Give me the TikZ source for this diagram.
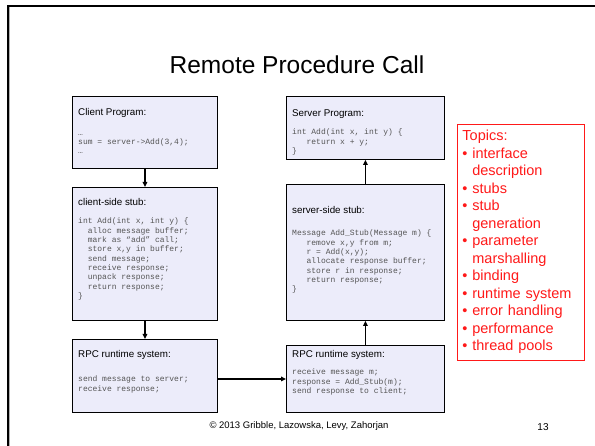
\documentclass[tikz,border=0pt]{standalone}
\usepackage{fontspec}
\setmainfont{Liberation Sans}
\newfontfamily\codefont{Liberation Mono}
\usetikzlibrary{arrows.meta,calc}
\definecolor{boxfill}{RGB}{236,236,250}
\definecolor{codegray}{RGB}{85,85,85}
\definecolor{topicred}{RGB}{255,25,25}
\begin{document}
\begin{tikzpicture}[x=1pt,y=-1pt,
  box/.style={draw=black, line width=0.9pt, fill=boxfill, anchor=north west, inner sep=0pt},
  hdr/.style={anchor=base west, inner sep=0pt, font=\fontsize{9.8}{12}\selectfont},
  code/.style={anchor=north west, inner sep=0pt, align=left, text=codegray,
    font=\codefont\fontsize{8}{9.3}\selectfont\frenchspacing, execute at begin node=\strut},
  conn/.style={line width=1.3pt, -{Triangle[length=5pt,width=4.5pt]}}]
\useasboundingbox (0,0) rectangle (595,446);
% slide frame
\draw[line width=2pt] (8,446) -- (8,6) -- (595,6);
\draw[gray!60, line width=0.6pt] (9.6,446) -- (9.6,7);
% title
\node[font=\fontsize{24.5}{28}\selectfont] (title) at (297,65) {Remote Procedure Call};
% left column
\node[box, minimum width=145pt, minimum height=72pt] (cp) at (72,96) {};
\node[hdr] (cph) at (78,116) {Client Program:};
\node[code] (cpc) at (78,134) {…\\sum = server->Add(3,4);\\…};
\node[box, minimum width=145pt, minimum height=133pt] (cs) at (72,187) {};
\node[hdr] (csh) at (78,205.5) {client-side stub:};
\node[code] (csc) at (78,218) {int Add(int x, int y) \{\\
\hspace*{1.2em}alloc message buffer;\\
\hspace*{1.2em}mark as “add” call;\\
\hspace*{1.2em}store x,y in buffer;\\
\hspace*{1.2em}send message;\\
\hspace*{1.2em}receive response;\\
\hspace*{1.2em}unpack response;\\
\hspace*{1.2em}return response;\\
\}};
\node[box, minimum width=145pt, minimum height=73pt] (lr) at (72,339) {};
\node[hdr] (lrh) at (78,357.5) {RPC runtime system:};
\node[code] (lrc) at (78,376) {send message to server;\\receive response;};
% right column
\node[box, minimum width=158pt, minimum height=63pt] (sp) at (286,96) {};
\node[hdr] (sph) at (292,116.5) {Server Program:};
\node[code] (spc) at (292,129) {int Add(int x, int y) \{\\
\hspace*{1.8em}return x + y;\\
\}};
\node[box, minimum width=158pt, minimum height=136pt] (ss) at (286,184) {};
\node[hdr] (ssh) at (292,213.5) {server-side stub:};
\node[code] (ssc) at (292,230) {Message Add\_Stub(Message m) \{\\
\hspace*{1.8em}remove x,y from m;\\
\hspace*{1.8em}r = Add(x,y);\\
\hspace*{1.8em}allocate response buffer;\\
\hspace*{1.8em}store r in response;\\
\hspace*{1.8em}return response;\\
\}};
\node[box, minimum width=158pt, minimum height=67pt] (rr) at (286,345) {};
\node[hdr] (rrh) at (292,357.5) {RPC runtime system:};
\node[code] (rrc) at (292,369) {receive message m;\\response = Add\_Stub(m);\\send response to client;};
% connectors
\draw[conn] (cp.south) -- (cs.north);
\draw[conn] (cs.south) -- (lr.north);
\draw[conn] (lr.east |- rr.west) -- (rr.west);
\draw[conn] (rr.north) -- (ss.south);
\draw[conn] (ss.north) -- (sp.south);
% topics
\node[draw=topicred, line width=0.9pt, fill=white, anchor=north west, text=topicred,
  align=left, text width=117pt, inner xsep=5pt, inner ysep=6pt,
  font=\fontsize{14.5}{17.5}\selectfont] (topics) at (457,124) {Topics:\\
•~interface\\\phantom{•~}description\\
•~stubs\\
•~stub\\\phantom{•~}generation\\
•~parameter\\\phantom{•~}marshalling\\
•~binding\\
•~runtime system\\
•~error handling\\
•~performance\\
•~thread pools};
% footer
\node[font=\fontsize{9.5}{11}\selectfont] (foot) at (299,426) {© 2013 Gribble, Lazowska, Levy, Zahorjan};
\node[font=\fontsize{10}{12}\selectfont] (page) at (543,427) {13};
\end{tikzpicture}
\end{document}
